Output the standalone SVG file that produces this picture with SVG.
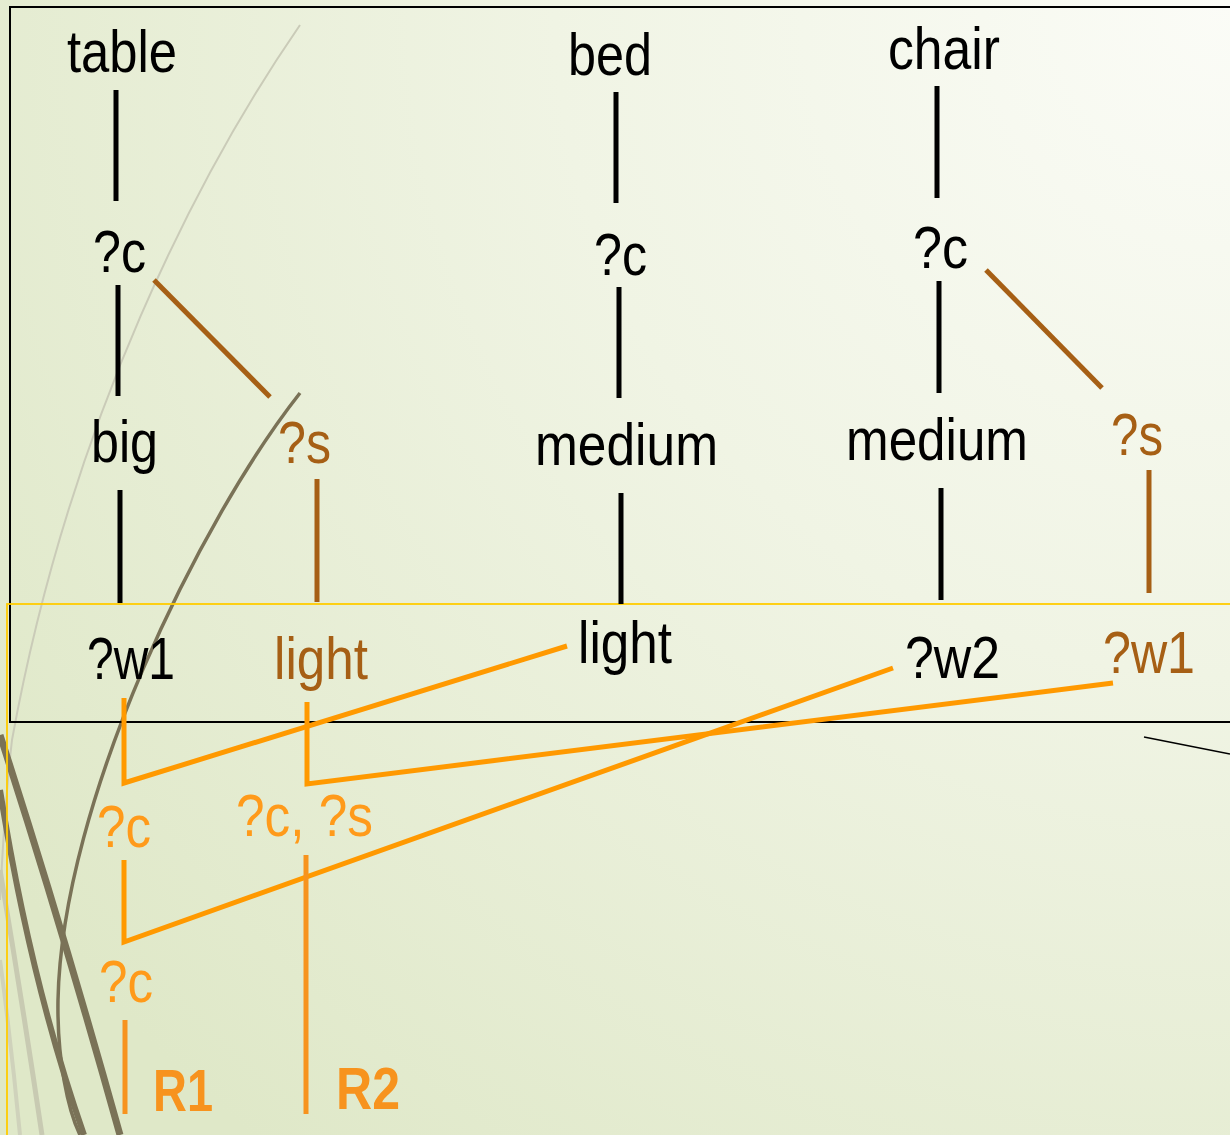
<svg xmlns="http://www.w3.org/2000/svg" width="1230" height="1135" viewBox="0 0 1230 1135">
<defs>
<radialGradient id="bg" cx="1230" cy="0" r="1500" gradientUnits="userSpaceOnUse">
<stop offset="0" stop-color="#fbfcf7"/>
<stop offset="0.45" stop-color="#f0f4e4"/>
<stop offset="1" stop-color="#dfe8c8"/>
</radialGradient>
</defs>
<style>
text{font-family:"Liberation Sans",Arial,sans-serif;font-size:60px;}
.k{fill:#000;}
.b{fill:#a65f15;}
.o{fill:#ff9a1a;}
.r{fill:#f7931e;font-weight:bold;}
.lk{stroke:#000;stroke-width:5;fill:none;}
.lb{stroke:#a65f15;stroke-width:5;fill:none;}
.lo{stroke:#ff9900;stroke-width:5;fill:none;}
.lr{stroke:#f7931e;stroke-width:5;fill:none;}
.deco{fill:none;stroke:#7a7257;}
</style>
<rect width="1230" height="1135" fill="url(#bg)"/>
<g id="decoration">
<path d="M300,25 C200,170 70,420 12,740 C5,800 2,860 0,900" stroke="#cacbb8" stroke-width="2" fill="none"/>
<path d="M0,870 Q22,1000 42,1135" stroke="#c8cab2" stroke-width="5" fill="none"/>
<path d="M0,960 Q12,1050 20,1135" stroke="#cfd2bb" stroke-width="4" fill="none"/>
<path class="deco" d="M300,393 C200,520 62,800 58,1000 C57,1060 68,1110 80,1135" stroke-width="3.5"/>
<path class="deco" d="M0,735 Q60,920 120,1135" stroke-width="7"/>
<path class="deco" d="M0,790 Q30,980 84,1135" stroke-width="6"/>
</g>
<rect x="10" y="7" width="1240" height="715" fill="none" stroke="#000" stroke-width="2"/>
<rect x="7" y="604" width="1240" height="560" fill="none" stroke="#ffcc00" stroke-width="1.8"/>
<line x1="1144" y1="737" x2="1230" y2="754" stroke="#000" stroke-width="1.6"/>
<g id="connectors">
<line class="lk" x1="116" y1="90" x2="116" y2="201"/>
<line class="lk" x1="118" y1="285" x2="118" y2="396"/>
<line class="lk" x1="120" y1="490" x2="120" y2="603"/>
<line class="lk" x1="616" y1="92" x2="616" y2="203"/>
<line class="lk" x1="619" y1="287" x2="619" y2="398"/>
<line class="lk" x1="621" y1="493" x2="621" y2="604"/>
<line class="lk" x1="937" y1="86" x2="937" y2="198"/>
<line class="lk" x1="939" y1="281" x2="939" y2="393"/>
<line class="lk" x1="941" y1="488" x2="941" y2="600"/>
<line class="lb" x1="154" y1="280" x2="270" y2="397"/>
<line class="lb" x1="317" y1="479" x2="317" y2="602"/>
<line class="lb" x1="986" y1="270" x2="1102" y2="388"/>
<line class="lb" x1="1149" y1="470" x2="1149" y2="593"/>
<polyline class="lo" points="124,698 124,783 567,646"/>
<polyline class="lo" points="307,702 307,784 1113,683"/>
<polyline class="lo" points="124,860 124,942 893,668"/>
<line class="lr" x1="125" y1="1020" x2="125" y2="1114"/>
<line class="lr" x1="306" y1="855" x2="306" y2="1114"/>
</g>
<g id="n-table"><text class="k" x="67" y="72" textLength="110" lengthAdjust="spacingAndGlyphs">table</text></g>
<g id="n-bed"><text class="k" x="568" y="75" textLength="84" lengthAdjust="spacingAndGlyphs">bed</text></g>
<g id="n-chair"><text class="k" x="888" y="69" textLength="112" lengthAdjust="spacingAndGlyphs">chair</text></g>
<g id="n-c1"><text class="k" x="93" y="272" textLength="53" lengthAdjust="spacingAndGlyphs">?c</text></g>
<g id="n-c2"><text class="k" x="594" y="275" textLength="53" lengthAdjust="spacingAndGlyphs">?c</text></g>
<g id="n-c3"><text class="k" x="913" y="268" textLength="55" lengthAdjust="spacingAndGlyphs">?c</text></g>
<g id="n-big"><text class="k" x="91" y="462" textLength="67" lengthAdjust="spacingAndGlyphs">big</text></g>
<g id="n-s1"><text class="b" x="278" y="463" textLength="53" lengthAdjust="spacingAndGlyphs">?s</text></g>
<g id="n-medium1"><text class="k" x="535" y="465" textLength="183" lengthAdjust="spacingAndGlyphs">medium</text></g>
<g id="n-medium2"><text class="k" x="846" y="460" textLength="182" lengthAdjust="spacingAndGlyphs">medium</text></g>
<g id="n-s2"><text class="b" x="1111" y="455" textLength="52" lengthAdjust="spacingAndGlyphs">?s</text></g>
<g id="n-w1a"><text class="k" x="87" y="679" textLength="88" lengthAdjust="spacingAndGlyphs">?w1</text></g>
<g id="n-light1"><text class="b" x="274" y="679" textLength="94" lengthAdjust="spacingAndGlyphs">light</text></g>
<g id="n-light2"><text class="k" x="578" y="663" textLength="94" lengthAdjust="spacingAndGlyphs">light</text></g>
<g id="n-w2"><text class="k" x="905" y="678" textLength="95" lengthAdjust="spacingAndGlyphs">?w2</text></g>
<g id="n-w1b"><text class="b" x="1103" y="673" textLength="92" lengthAdjust="spacingAndGlyphs">?w1</text></g>
<g id="n-oc1"><text class="o" x="97" y="847" textLength="54" lengthAdjust="spacingAndGlyphs">?c</text></g>
<g id="n-ocs"><text class="o" x="236" y="836" textLength="137" lengthAdjust="spacingAndGlyphs">?c, ?s</text></g>
<g id="n-oc2"><text class="o" x="99" y="1002" textLength="54" lengthAdjust="spacingAndGlyphs">?c</text></g>
<g id="n-R1"><text class="r" x="153" y="1111" textLength="60" lengthAdjust="spacingAndGlyphs">R1</text></g>
<g id="n-R2"><text class="r" x="336" y="1109" textLength="64" lengthAdjust="spacingAndGlyphs">R2</text></g>
</svg>
